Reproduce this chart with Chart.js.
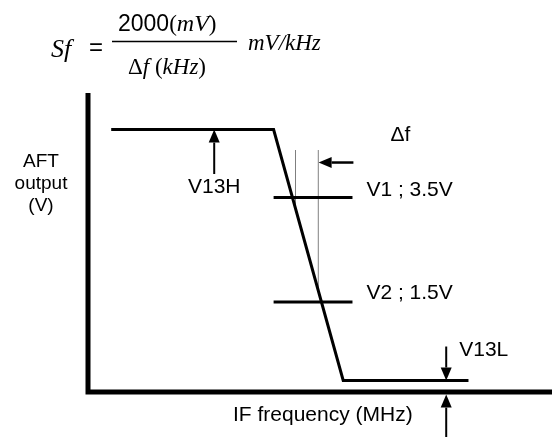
<!DOCTYPE html>
<html>
<head>
<meta charset="utf-8">
<script src="https://cdn.jsdelivr.net/npm/chart.js@4.4.1/dist/chart.umd.min.js"></script>
<style>
    html, body { margin: 0; padding: 0; background: #fff; }
    #wrap { width: 552px; height: 437px; }
</style>
</head>
<body>
<div id="wrap"><canvas id="aftChart" width="552" height="437"></canvas></div>
<script>
// =====================================
// DATA  (x = IF frequency, arbitrary units ; y = AFT output, V)
// =====================================
const curveX = [5, 40, 55, 82];
const curveY = [4.8, 4.8, 0, 0];
const V13H = 4.8;
const V13L = 0;
const V1 = 3.5;
const V2 = 1.5;
const refSpanX = [40, 57];          // V1 / V2 reference segments
const dfMarkX = [44.72, 49.63];     // dotted delta-f markers
const dfMarkTop = 4.4;
const dfMarkBottom = [3.3, 1.7];    // where the markers meet the slope
const xRange = [0, 100];
const yRange = [-0.22, 5.5];

// arrows in data units: [xFrom, yFrom, xTo, yTo, shaftWidth]
const arrows = [
    [27.2, 3.95, 27.2, V13H, 2],       // V13H
    [57.2, 4.17, 49.7, 4.17, 2.5],     // delta f
    [77.2, 0.65, 77.2, V13L, 2],       // V13L from above
    [77.2, -1.1, 77.2, -0.27, 2],      // V13L from below
];

// labels in data units: [text, x, y, align]
const labels = [
    ["\u0394f", 65.2, 4.70, "left"],
    ["V1 ; 3.5V", 60.0, V1 + 0.14, "left"],
    ["V2 ; 1.5V", 60.0, V2 + 0.17, "left"],
    ["V13H", 27.2, 3.70, "center"],
    ["V13L", 80.0, 0.58, "left"],
];

const toPts = (xs, ys) => xs.map((x, i) => ({ x: x, y: ys[i] }));

// ==============================
// helpers
// ==============================
function drawArrow(ctx, x1, y1, x2, y2, w) {
    const head = 13, half = 5.5;
    const ang = Math.atan2(y2 - y1, x2 - x1);
    const bx = x2 - head * Math.cos(ang);
    const by = y2 - head * Math.sin(ang);
    ctx.beginPath();
    ctx.moveTo(x1, y1);
    ctx.lineTo(bx, by);
    ctx.lineWidth = w;
    ctx.stroke();
    ctx.beginPath();
    ctx.moveTo(x2, y2);
    ctx.lineTo(bx + half * Math.sin(ang), by - half * Math.cos(ang));
    ctx.lineTo(bx - half * Math.sin(ang), by + half * Math.cos(ang));
    ctx.closePath();
    ctx.fill();
}

function drawRuns(ctx, runs, x, y) {
    runs.forEach(([t, f]) => {
        ctx.font = f;
        ctx.fillText(t, x, y);
        x += ctx.measureText(t).width;
    });
}

const SANS = "Liberation Sans, Arial, sans-serif";
const SERIF = "Liberation Serif, Times New Roman, serif";

// ==============================
// plugin: axes, arrows, texts, formula
// ==============================
const diagramPlugin = {
    id: "diagram",
    afterDatasetsDraw(chart) {
        const { ctx, chartArea: a, scales } = chart;
        const px = (v) => scales.x.getPixelForValue(v);
        const py = (v) => scales.y.getPixelForValue(v);
        ctx.save();
        ctx.strokeStyle = "#000";
        ctx.fillStyle = "#000";

        // thick axes
        ctx.lineWidth = 5;
        ctx.beginPath();
        ctx.moveTo(a.left, a.top);
        ctx.lineTo(a.left, a.bottom);
        ctx.moveTo(a.left - 2.5, a.bottom);
        ctx.lineTo(a.right, a.bottom);
        ctx.stroke();

        // arrows
        arrows.forEach(([x1, y1, x2, y2, w]) => {
            drawArrow(ctx, px(x1), py(y1), px(x2), py(y2), w);
        });

        // labels on the diagram
        ctx.textBaseline = "middle";
        ctx.font = "21px " + SANS;
        labels.forEach(([t, x, y, al]) => {
            ctx.textAlign = al;
            ctx.fillText(t, px(x), py(y));
        });

        // axis titles
        ctx.textAlign = "left";
        ctx.fillText("IF frequency (MHz)", 233, a.bottom + 23);
        ctx.textAlign = "center";
        ctx.font = "19px " + SANS;
        ["AFT", "output", "(V)"].forEach((t, i) => {
            ctx.fillText(t, 41, 162 + i * 22);
        });

        // formula
        ctx.textAlign = "left";
        ctx.textBaseline = "alphabetic";
        drawRuns(ctx, [["Sf", "italic 26px " + SERIF]], 51, 57);
        drawRuns(ctx, [["=", "24px " + SANS]], 89, 55);
        drawRuns(ctx, [
            ["2000", "23px " + SANS],
            ["(", "23px " + SERIF],
            ["mV", "italic 24px " + SERIF],
            [")", "23px " + SERIF],
        ], 118, 31);
        ctx.lineWidth = 1.5;
        ctx.beginPath();
        ctx.moveTo(112, 41.5);
        ctx.lineTo(237, 41.5);
        ctx.stroke();
        drawRuns(ctx, [
            ["\u0394", "23px " + SERIF],
            ["f", "italic 23px " + SERIF],
            [" (", "23px " + SERIF],
            ["kHz", "italic 23px " + SERIF],
            [")", "23px " + SERIF],
        ], 128, 74);
        drawRuns(ctx, [["mV/kHz", "italic 23px " + SERIF]], 248, 50);
        ctx.restore();
    },
};

// ==============================
// chart
// ==============================
const lineStyle = {
    borderColor: "#000",
    borderWidth: 3,
    pointRadius: 0,
    tension: 0,
    fill: false,
    clip: false,
};

const dotStyle = { ...lineStyle, borderWidth: 1, borderDash: [1, 1] };

new Chart(document.getElementById("aftChart"), {
    type: "line",
    data: {
        datasets: [
            { ...lineStyle, data: toPts(curveX, curveY) },
            { ...lineStyle, data: toPts(refSpanX, [V1, V1]) },
            { ...lineStyle, data: toPts(refSpanX, [V2, V2]) },
            { ...dotStyle, data: toPts([dfMarkX[0], dfMarkX[0]], [dfMarkTop, dfMarkBottom[0]]) },
            { ...dotStyle, data: toPts([dfMarkX[1], dfMarkX[1]], [dfMarkTop, dfMarkBottom[1]]) },
        ],
    },
    options: {
        responsive: false,
        animation: false,
        devicePixelRatio: 1,
        layout: { padding: { left: 88, top: 93, right: 0, bottom: 45 } },
        plugins: { legend: { display: false }, tooltip: { enabled: false } },
        scales: {
            x: { type: "linear", min: xRange[0], max: xRange[1], display: false },
            y: { type: "linear", min: yRange[0], max: yRange[1], display: false },
        },
    },
    plugins: [diagramPlugin],
});
</script>
</body>
</html>
